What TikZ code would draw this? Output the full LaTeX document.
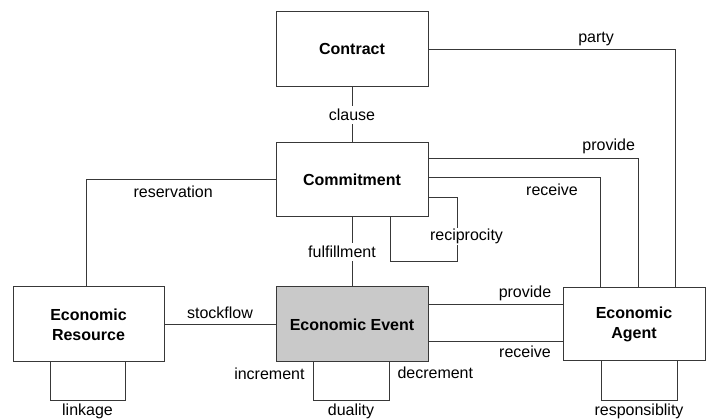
\documentclass[tikz,border=0pt]{standalone}
\usepackage{fontspec}
\setmainfont{Liberation Sans}
\usepackage{tikz}
\usetikzlibrary{arrows}
\definecolor{cline}{rgb}{0.22, 0.22, 0.22}
\definecolor{cevent}{rgb}{0.79, 0.79, 0.79}

\begin{document}
\begin{tikzpicture}[-,x=1pt,y=1pt,node distance=140pt,
  main node/.style={rectangle,draw=cline,fill=white,line width=1pt,align=center,
    minimum width=152pt,minimum height=75pt,font=\bfseries\fontsize{16}{20}\selectfont},
  event node/.style={main node,fill=cevent},
  conn/.style={draw=cline,line width=1pt},
  rel text/.style={font=\fontsize{16}{20}\selectfont,inner sep=3pt}]
  \useasboundingbox (0,0) rectangle (708,419);
  \node[main node] (contract) at (352,369.5) {Contract};
  \node[main node, minimum height=74pt] (commit) [below of=contract, node distance=130.5pt] {Commitment};
  \node[event node] (event) [below of=commit, node distance=144.5pt] {Economic Event};
  \node[main node, minimum width=151pt] (resource) [left of=event, node distance=263.5pt] {Economic\\Resource};
  \node[main node, minimum width=142pt, minimum height=73pt] (agent) [right of=event, node distance=282pt] {Economic\\Agent};

  \path[every node/.style={rel text}]
    (contract) edge[conn] node[fill=white] {clause} (commit)
    (commit) edge[conn] node[fill=white, xshift=-10pt] {fulfillment} (event)
    (resource) edge[conn] node[above, yshift=2pt] {stockflow} (event);

  \draw[conn, every node/.style={rel text}] (commit.west) -| node[below, pos=0.27, yshift=-2pt] {reservation} ([xshift=-2.5pt]resource.north);
  \draw[conn, every node/.style={rel text}] ([yshift=20pt]event.east) -- node[above, pos=0.72] {provide} ([yshift=20pt]event.east -| agent.west);
  \draw[conn, every node/.style={rel text}] ([yshift=-17.5pt]event.east) -- node[below, pos=0.72] {receive} ([yshift=-17.5pt]event.east -| agent.west);
  \draw[conn, every node/.style={rel text}] (contract.east) -| node[above, pos=0.34] {party} ([xshift=41pt]agent.north);
  \draw[conn, every node/.style={rel text}] ([yshift=21pt]commit.east) -| node[above, pos=0.43, yshift=2pt] {provide} ([xshift=4pt]agent.north);
  \draw[conn, every node/.style={rel text}] ([yshift=2pt]commit.east) -| node[below, pos=0.36, yshift=-2pt] {receive} ([xshift=-34pt]agent.north);
  \draw[conn, every node/.style={rel text}] ([yshift=-18pt]commit.east) -| ++(29pt,-64pt)
    node[fill=white, pos=0.8, xshift=9pt, inner sep=1pt] {reciprocity} -| ([xshift=38pt]commit.south);
  \draw[conn, every node/.style={rel text}] ([xshift=-38.5pt]resource.south) -- ++(0,-38pt)
    -| node[below, pos=0.25] {linkage} ([xshift=36.5pt]resource.south);
  \draw[conn, every node/.style={rel text}] ([xshift=-39pt]event.south) -- node[left, pos=0.3, xshift=-5pt] {increment} ++(0,-38pt)
    -| node[below, pos=0.25] {duality} node[right, pos=0.86, xshift=5pt] {decrement} ([xshift=37pt]event.south);
  \draw[conn, every node/.style={rel text}] ([xshift=-33pt]agent.south) -- ++(0,-39pt)
    -| node[below, pos=0.25] {responsiblity} ([xshift=43pt]agent.south);
\end{tikzpicture}
\end{document}
